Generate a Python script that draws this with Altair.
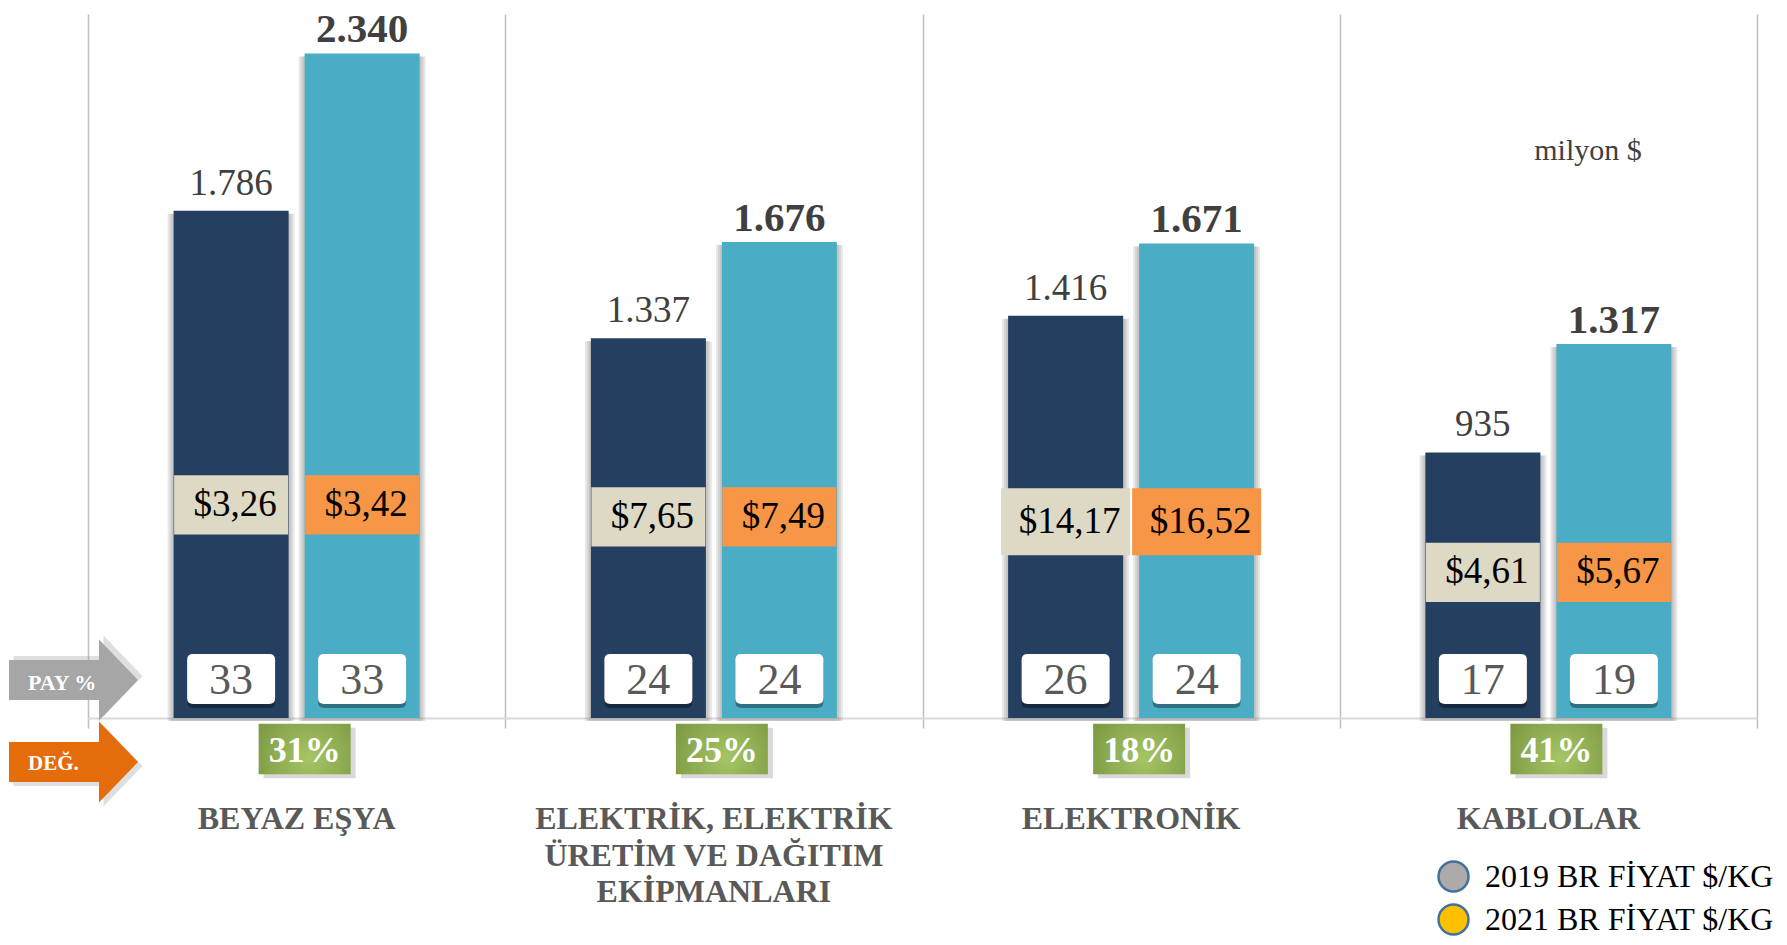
import altair as alt
import pandas as pd

# ---------------- data ----------------
categories = ["BEYAZ EŞYA", "ELEKTRİK, ELEKTRİK ÜRETİM VE DAĞITIM EKİPMANLARI", "ELEKTRONİK", "KABLOLAR"]
category_lines = ["BEYAZ EŞYA", "ELEKTRİK, ELEKTRİK\nÜRETİM VE DAĞITIM\nEKİPMANLARI", "ELEKTRONİK", "KABLOLAR"]
years = ["2019", "2021"]
exports_2019 = [1786, 1337, 1416, 935]
exports_2021 = [2340, 1676, 1671, 1317]
price_2019 = [3.26, 7.65, 14.17, 4.61]
price_2021 = [3.42, 7.49, 16.52, 5.67]
share_2019 = [33, 24, 26, 17]
share_2021 = [33, 24, 24, 19]
change_pct = [31, 25, 18, 41]
legend_names = ["2019 BR FİYAT $/KG", "2021 BR FİYAT $/KG"]
unit_note = ["milyon $"]
row_tags = ["PAY %", "DEĞ."]

rows = []
for i, c in enumerate(categories):
    for k, (yr, vals, prc, shr) in enumerate(((years[0], exports_2019, price_2019, share_2019),
                                              (years[1], exports_2021, price_2021, share_2021))):
        rows.append({"cat": c, "year": yr, "value": vals[i], "price": prc[i],
                     "share": shr[i], "series": legend_names[k]})
long_df = pd.DataFrame(rows)
cat_df = pd.DataFrame({"cat": categories, "label": category_lines, "change": change_pct})

# ---------------- style ----------------
FONT = "Liberation Serif"
C19, C21 = "#243F60", "#4BACC6"
BEIGE, ORANGE = "#DDD9C4", "#F79646"
W, H = 1669, 704
PX_PER_UNIT = 710 / 2500

x_axis = alt.Axis(title=None, labels=False, grid=True, gridColor="#BFBFBF", gridWidth=1.5,
                  tickBand="extent", ticks=True, tickSize=10, tickColor="#BFBFBF", tickWidth=1.5,
                  domain=True, domainColor="#D9D9D9", domainWidth=2)
X = alt.X("cat:N", sort=categories, scale=alt.Scale(paddingInner=0, paddingOuter=0), axis=x_axis)
XO = alt.XOffset("year:N", sort=years, scale=alt.Scale(paddingInner=0.122, paddingOuter=0.6535))
yscale = alt.Scale(domain=[0, H / PX_PER_UNIT], nice=False, zero=True)
Yv = alt.Y("value:Q", scale=yscale, axis=None)
Y0 = alt.Y(datum=0, scale=yscale, axis=None)
yearfill = alt.condition("datum.year == '2019'", alt.value(C19), alt.value(C21))

RECT_P = "M-1,-0.52H1V0.52H-1Z"
RECT_G = "M-1,-0.55H1V0.55H-1Z"
ROUND = ("M-0.864,-0.568H0.864Q1,-0.568 1,-0.432V0.432Q1,0.568 0.864,0.568"
         "H-0.864Q-1,0.568 -1,0.432V-0.432Q-1,-0.568 -0.864,-0.568Z")
ARROW = "M-1,-0.31H0.395V-0.628L1,0L0.395,0.628V0.31H-1Z"

base = alt.Chart(long_df)

# bars with a soft shadow
bars = base.mark_bar().encode(x=X, xOffset=XO, y=Yv, color=yearfill)
shadow_layers = [
    base.mark_bar(color="#7F7F7F", opacity=0.18, width=115 + 2 * sw, yOffset=3).encode(
        x=X, xOffset=XO, y=Yv)
    for sw in (6, 4, 2)
]

fmt_val = "replace(format(datum.value, ','), ',', '.')"
lab19 = base.transform_filter("datum.year == '2019'").transform_calculate(t=fmt_val).mark_text(
    font=FONT, fontSize=37, color="#404040", baseline="alphabetic", dy=-16
).encode(x=X, xOffset=XO, y=Yv, text="t:N")
lab21 = base.transform_filter("datum.year == '2021'").transform_calculate(t=fmt_val).mark_text(
    font=FONT, fontSize=41, fontWeight="bold", color="#404040", baseline="alphabetic", dy=-11
).encode(x=X, xOffset=XO, y=Yv, text="t:N")

# price markers (legend) and price labels
price_base = base.transform_joinaggregate(
    vmin="min(value)", vmax="max(value)", groupby=["cat"]
).transform_calculate(
    ly="min(datum.vmin * 0.548, 640 + 0.2 * (datum.vmax - datum.vmin))",
    pl="'$' + replace(format(datum.price, '.2f'), '.', ',')",
).transform_calculate(bw="pow(15 * length(datum.pl) + 39, 2)")
Yp = alt.Y("ly:Q", scale=yscale, axis=None)

legend_pts = price_base.mark_point(filled=True, opacity=1, size=400, shape="circle").encode(
    x=X, xOffset=XO, y=Yp,
    color=alt.Color("series:N", sort=legend_names,
                    scale=alt.Scale(domain=legend_names, range=["#AEAAAA", "#FFC000"]),
                    legend=alt.Legend(orient="none", legendX=1349, legendY=846, title=None,
                                      direction="vertical", labelFont=FONT, labelFontSize=32,
                                      labelColor="#000000", labelLimit=0, symbolType="circle",
                                      symbolSize=900, symbolStrokeColor="#41719C",
                                      symbolStrokeWidth=2.5, symbolOpacity=1, rowPadding=2,
                                      labelOffset=15, padding=0)),
)
price_box = price_base.mark_point(filled=True, opacity=1, shape=RECT_P).encode(
    x=X, xOffset=XO, y=Yp, fill=alt.condition("datum.year == '2019'", alt.value(BEIGE), alt.value(ORANGE)),
    size=alt.Size("bw:Q", scale=None, legend=None),
)
price_txt = price_base.mark_text(font=FONT, fontSize=37, color="#000000", baseline="middle", dx=4).encode(
    x=X, xOffset=XO, y=Yp, text="pl:N")

# share boxes
pay_shadow = base.mark_point(filled=True, opacity=0.35, color="#000000", shape=ROUND, size=88 * 88,
                             yOffset=-35).encode(x=X, xOffset=XO, y=Y0)
pay_box = base.mark_point(filled=True, opacity=1, color="#FFFFFF", shape=ROUND, size=88 * 88,
                          yOffset=-39).encode(x=X, xOffset=XO, y=Y0)
pay_txt = base.mark_text(font=FONT, fontSize=44, color="#595959", baseline="middle", dy=-37).encode(
    x=X, xOffset=XO, y=Y0, text="share:Q")

# change boxes
cbase = alt.Chart(cat_df)
Xc = alt.X("cat:N", sort=categories)
green = {"gradient": "radial",
         "stops": [{"offset": 0, "color": "#A5C566"}, {"offset": 1, "color": "#76923C"}],
         "x1": 0.55, "y1": 0.6, "x2": 0.55, "y2": 0.6, "r1": 0, "r2": 0.75}
chg_shadow = cbase.mark_point(filled=True, opacity=0.3, color="#808080", shape=RECT_G, size=92 * 92,
                              xOffset=13, yOffset=35).encode(x=Xc, y=Y0)
chg_box = cbase.mark_point(filled=True, opacity=1, fill=green, shape=RECT_G, size=92 * 92,
                           xOffset=8, yOffset=31).encode(x=Xc, y=Y0)
chg_txt = cbase.transform_calculate(t="datum.change + '%'").mark_text(
    font=FONT, fontSize=36, fontWeight="bold", color="#FFFFFF", baseline="middle", dx=8, dy=33
).encode(x=Xc, y=Y0, text="t:N")

cat_txt = cbase.mark_text(font=FONT, fontSize=32, fontWeight="bold", color="#595959", baseline="top",
                          lineBreak="\n", lineHeight=36.5, dy=86).encode(x=Xc, y=Y0, text="label:N")

# left arrows
tag_df = pd.DataFrame({"tag": row_tags})
def tag_chart(tag):
    return alt.Chart(tag_df).transform_filter(f"datum.tag == '{tag}'")

pay_arrow_sh = tag_chart("PAY %").mark_point(
    filled=True, opacity=0.25, color="#7F7F7F", shape=ARROW, size=129 * 129).encode(
    x=alt.value(-10), y=alt.value(H - 42))
pay_arrow = tag_chart("PAY %").mark_point(
    filled=True, opacity=1, color="#A6A6A6", shape=ARROW, size=129 * 129).encode(
    x=alt.value(-14.5), y=alt.value(H - 38))
deg_arrow_sh = tag_chart("DEĞ.").mark_point(
    filled=True, opacity=0.25, color="#7F7F7F", shape=ARROW, size=129 * 129).encode(
    x=alt.value(-10), y=alt.value(H + 48))
deg_arrow = tag_chart("DEĞ.").mark_point(
    filled=True, opacity=1, color="#E46C0A", shape=ARROW, size=129 * 129).encode(
    x=alt.value(-14.5), y=alt.value(H + 44))
pay_tag = tag_chart("PAY %").mark_text(
    font=FONT, fontSize=22, fontWeight="bold", color="#FFFFFF", align="left", baseline="middle").encode(
    x=alt.value(-60), y=alt.value(H - 35), text="tag:N")
deg_tag = tag_chart("DEĞ.").mark_text(
    font=FONT, fontSize=21, fontWeight="bold", color="#FFFFFF", align="left", baseline="middle").encode(
    x=alt.value(-60), y=alt.value(H + 46), text="tag:N")

note = alt.Chart(pd.DataFrame({"t": unit_note})).mark_text(
    font=FONT, fontSize=30, color="#404040", align="center", baseline="alphabetic").encode(
    x=alt.value(1500), y=alt.value(146), text="t:N")

chart = alt.layer(
    *shadow_layers, bars, lab19, lab21,
    legend_pts, price_box, price_txt,
    pay_shadow, pay_box, pay_txt,
    chg_shadow, chg_box, chg_txt, cat_txt,
    pay_arrow_sh, pay_arrow, deg_arrow_sh, deg_arrow, pay_tag, deg_tag, note,
).properties(
    width=W, height=H,
    autosize=alt.AutoSizeParams(type="none"),
    padding={"left": 80, "top": 6, "right": 22, "bottom": 219},
    background="#FFFFFF",
).configure_view(stroke=None)

chart.save("out.html", embed_options={"renderer": "svg", "actions": False})
